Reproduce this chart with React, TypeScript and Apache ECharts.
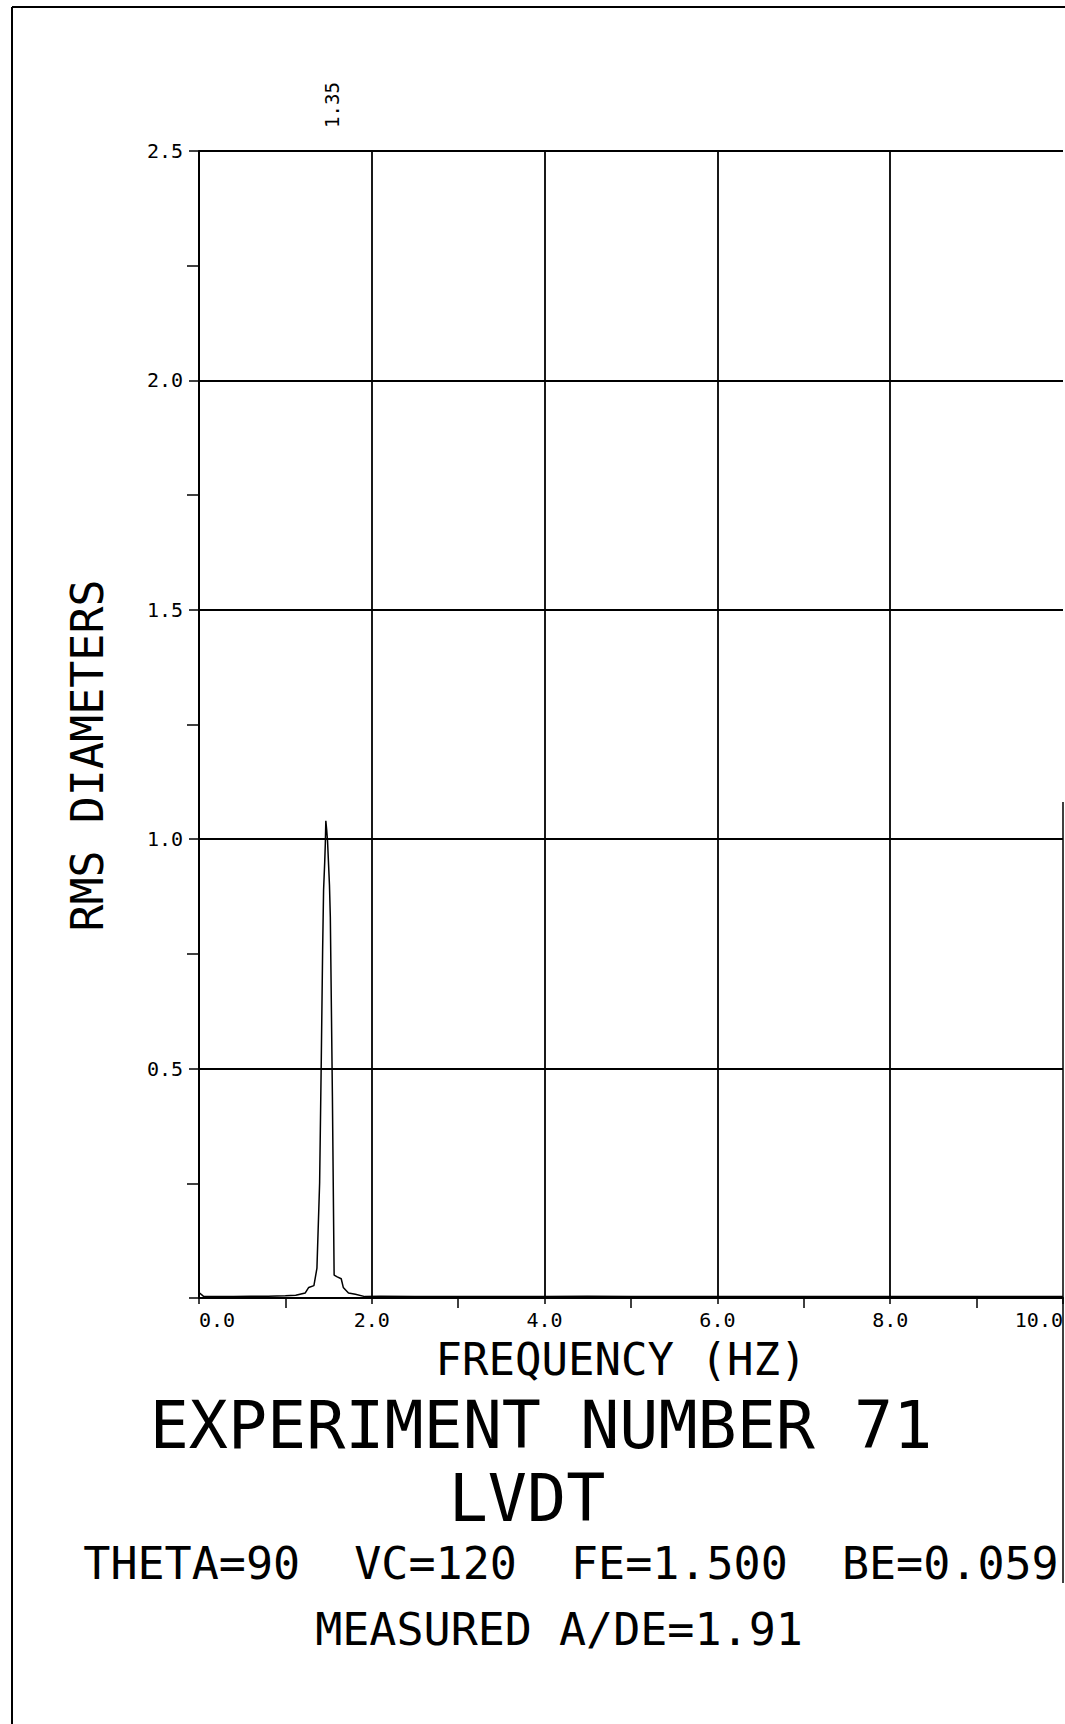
import React, { useEffect, useRef } from "react";
import * as echarts from "echarts";

// Spectrum (frequency in Hz, RMS diameters)
const freqHz = [
  0, 0.05, 0.2, 0.4, 0.6, 0.8, 1.0, 1.12, 1.23, 1.27, 1.33, 1.365, 1.396, 1.415,
  1.431, 1.442, 1.455, 1.462, 1.468, 1.478, 1.488, 1.51, 1.52, 1.544, 1.564, 1.6,
  1.646, 1.67, 1.73, 1.81, 1.92, 2.1, 2.5, 3.0, 3.5, 4.0, 4.5, 5.0, 6.0, 7.0, 8.0,
  9.0, 10.0,
];
const rmsDiam = [
  0.012, 0.004, 0.003, 0.003, 0.004, 0.004, 0.005, 0.006, 0.011, 0.023, 0.027,
  0.065, 0.25, 0.515, 0.76, 0.89, 0.95, 0.99, 1.04, 1.02, 0.995, 0.9, 0.83, 0.44,
  0.05, 0.046, 0.042, 0.023, 0.011, 0.008, 0.003, 0.004, 0.003, 0.003, 0.003,
  0.003, 0.004, 0.003, 0.003, 0.003, 0.003, 0.003, 0.003,
];

const peakLabel = "1.35";
const xAxisTitle = "FREQUENCY (HZ)";
const yAxisTitle = "RMS DIAMETERS";
const titleLine = "EXPERIMENT NUMBER 71";
const sensorLine = "LVDT";
const paramLine = "THETA=90  VC=120  FE=1.500  BE=0.059";
const measuredLine = "MEASURED A/DE=1.91";

const FONT = '"DejaVu Sans Mono", monospace';

function txt(text: string, x: number, y: number, size: number, rotation = 0) {
  return {
    type: "text",
    x,
    y,
    rotation,
    style: {
      text,
      fontFamily: FONT,
      fontSize: size,
      lineHeight: Math.round(size * 0.8),
      fill: "#000",
      align: "center",
      verticalAlign: "middle",
      textAlign: "center",
      textVerticalAlign: "middle",
    },
  };
}

export default function App() {
  const ref = useRef<HTMLDivElement>(null);
  useEffect(() => {
    if (!ref.current) return;
    const chart = echarts.init(ref.current, undefined, { renderer: "svg" });
    const data = freqHz.map((f, i) => [f, rmsDiam[i]]);
    chart.setOption({
      animation: false,
      backgroundColor: "#fff",
      grid: { left: 199, top: 151, width: 864, height: 1147, containLabel: false, outerBoundsMode: "none" },
      xAxis: {
        type: "value",
        min: 0,
        max: 10,
        interval: 2,
        name: xAxisTitle,
        nameLocation: "middle",
        nameGap: 43,
        nameTextStyle: {
          fontFamily: FONT,
          fontSize: 44,
          lineHeight: 36,
          color: "#000",
          verticalAlign: "top",
          padding: [0, 20, 0, 0],
        },
        axisLine: { show: true, onZero: false, lineStyle: { color: "#000", width: 2 } },
        axisTick: { show: true, length: 6, lineStyle: { color: "#000", width: 1.5 } },
        minorTick: { show: true, splitNumber: 2, length: 10, lineStyle: { color: "#000", width: 1.5 } },
        axisLabel: {
          formatter: (v: number) => v.toFixed(1),
          fontFamily: FONT,
          fontSize: 20,
          color: "#000",
          margin: 12,
          alignMinLabel: "left",
          alignMaxLabel: "right",
        },
        splitLine: { show: true, showMaxLine: false, lineStyle: { color: "#000", width: 1.8 } },
      },
      yAxis: {
        type: "value",
        min: 0,
        max: 2.5,
        interval: 0.5,
        name: yAxisTitle,
        nameLocation: "middle",
        nameRotate: 90,
        nameGap: 89,
        nameTextStyle: { fontFamily: FONT, fontSize: 45, color: "#000", padding: [0, 62, 0, 0] },
        axisLine: { show: true, onZero: false, lineStyle: { color: "#000", width: 2 } },
        axisTick: { show: true, length: 10, lineStyle: { color: "#000", width: 1.5 } },
        minorTick: { show: true, splitNumber: 2, length: 12, lineStyle: { color: "#000", width: 1.5 } },
        axisLabel: {
          formatter: (v: number) => v.toFixed(1),
          showMinLabel: false,
          fontFamily: FONT,
          fontSize: 20,
          color: "#000",
          margin: 16,
          verticalAlign: "middle",
        },
        splitLine: { show: true, lineStyle: { color: "#000", width: 1.8 } },
      },
      series: [
        {
          type: "line",
          data,
          showSymbol: false,
          lineStyle: { color: "#000", width: 1.5 },
          silent: true,
        },
      ],
      graphic: [
        { type: "line", shape: { x1: 12, y1: 7, x2: 1065, y2: 7 }, style: { stroke: "#000", lineWidth: 2 } },
        { type: "line", shape: { x1: 12, y1: 7, x2: 12, y2: 1724 }, style: { stroke: "#000", lineWidth: 2 } },
        { type: "line", shape: { x1: 1063, y1: 802, x2: 1063, y2: 1583 }, style: { stroke: "#000", lineWidth: 1.5 } },
        txt(peakLabel, 332, 105, 19, Math.PI / 2),
        txt(titleLine, 541, 1425, 65),
        txt(sensorLine, 527, 1498, 65),
        txt(paramLine, 571, 1563, 45),
        txt(measuredLine, 559, 1629, 45),
      ],
    });
    return () => chart.dispose();
  }, []);
  return (
    <div
      ref={ref}
      style={{ position: "fixed", left: 0, top: 0, width: 1065, height: 1724, background: "#fff" }}
    />
  );
}
